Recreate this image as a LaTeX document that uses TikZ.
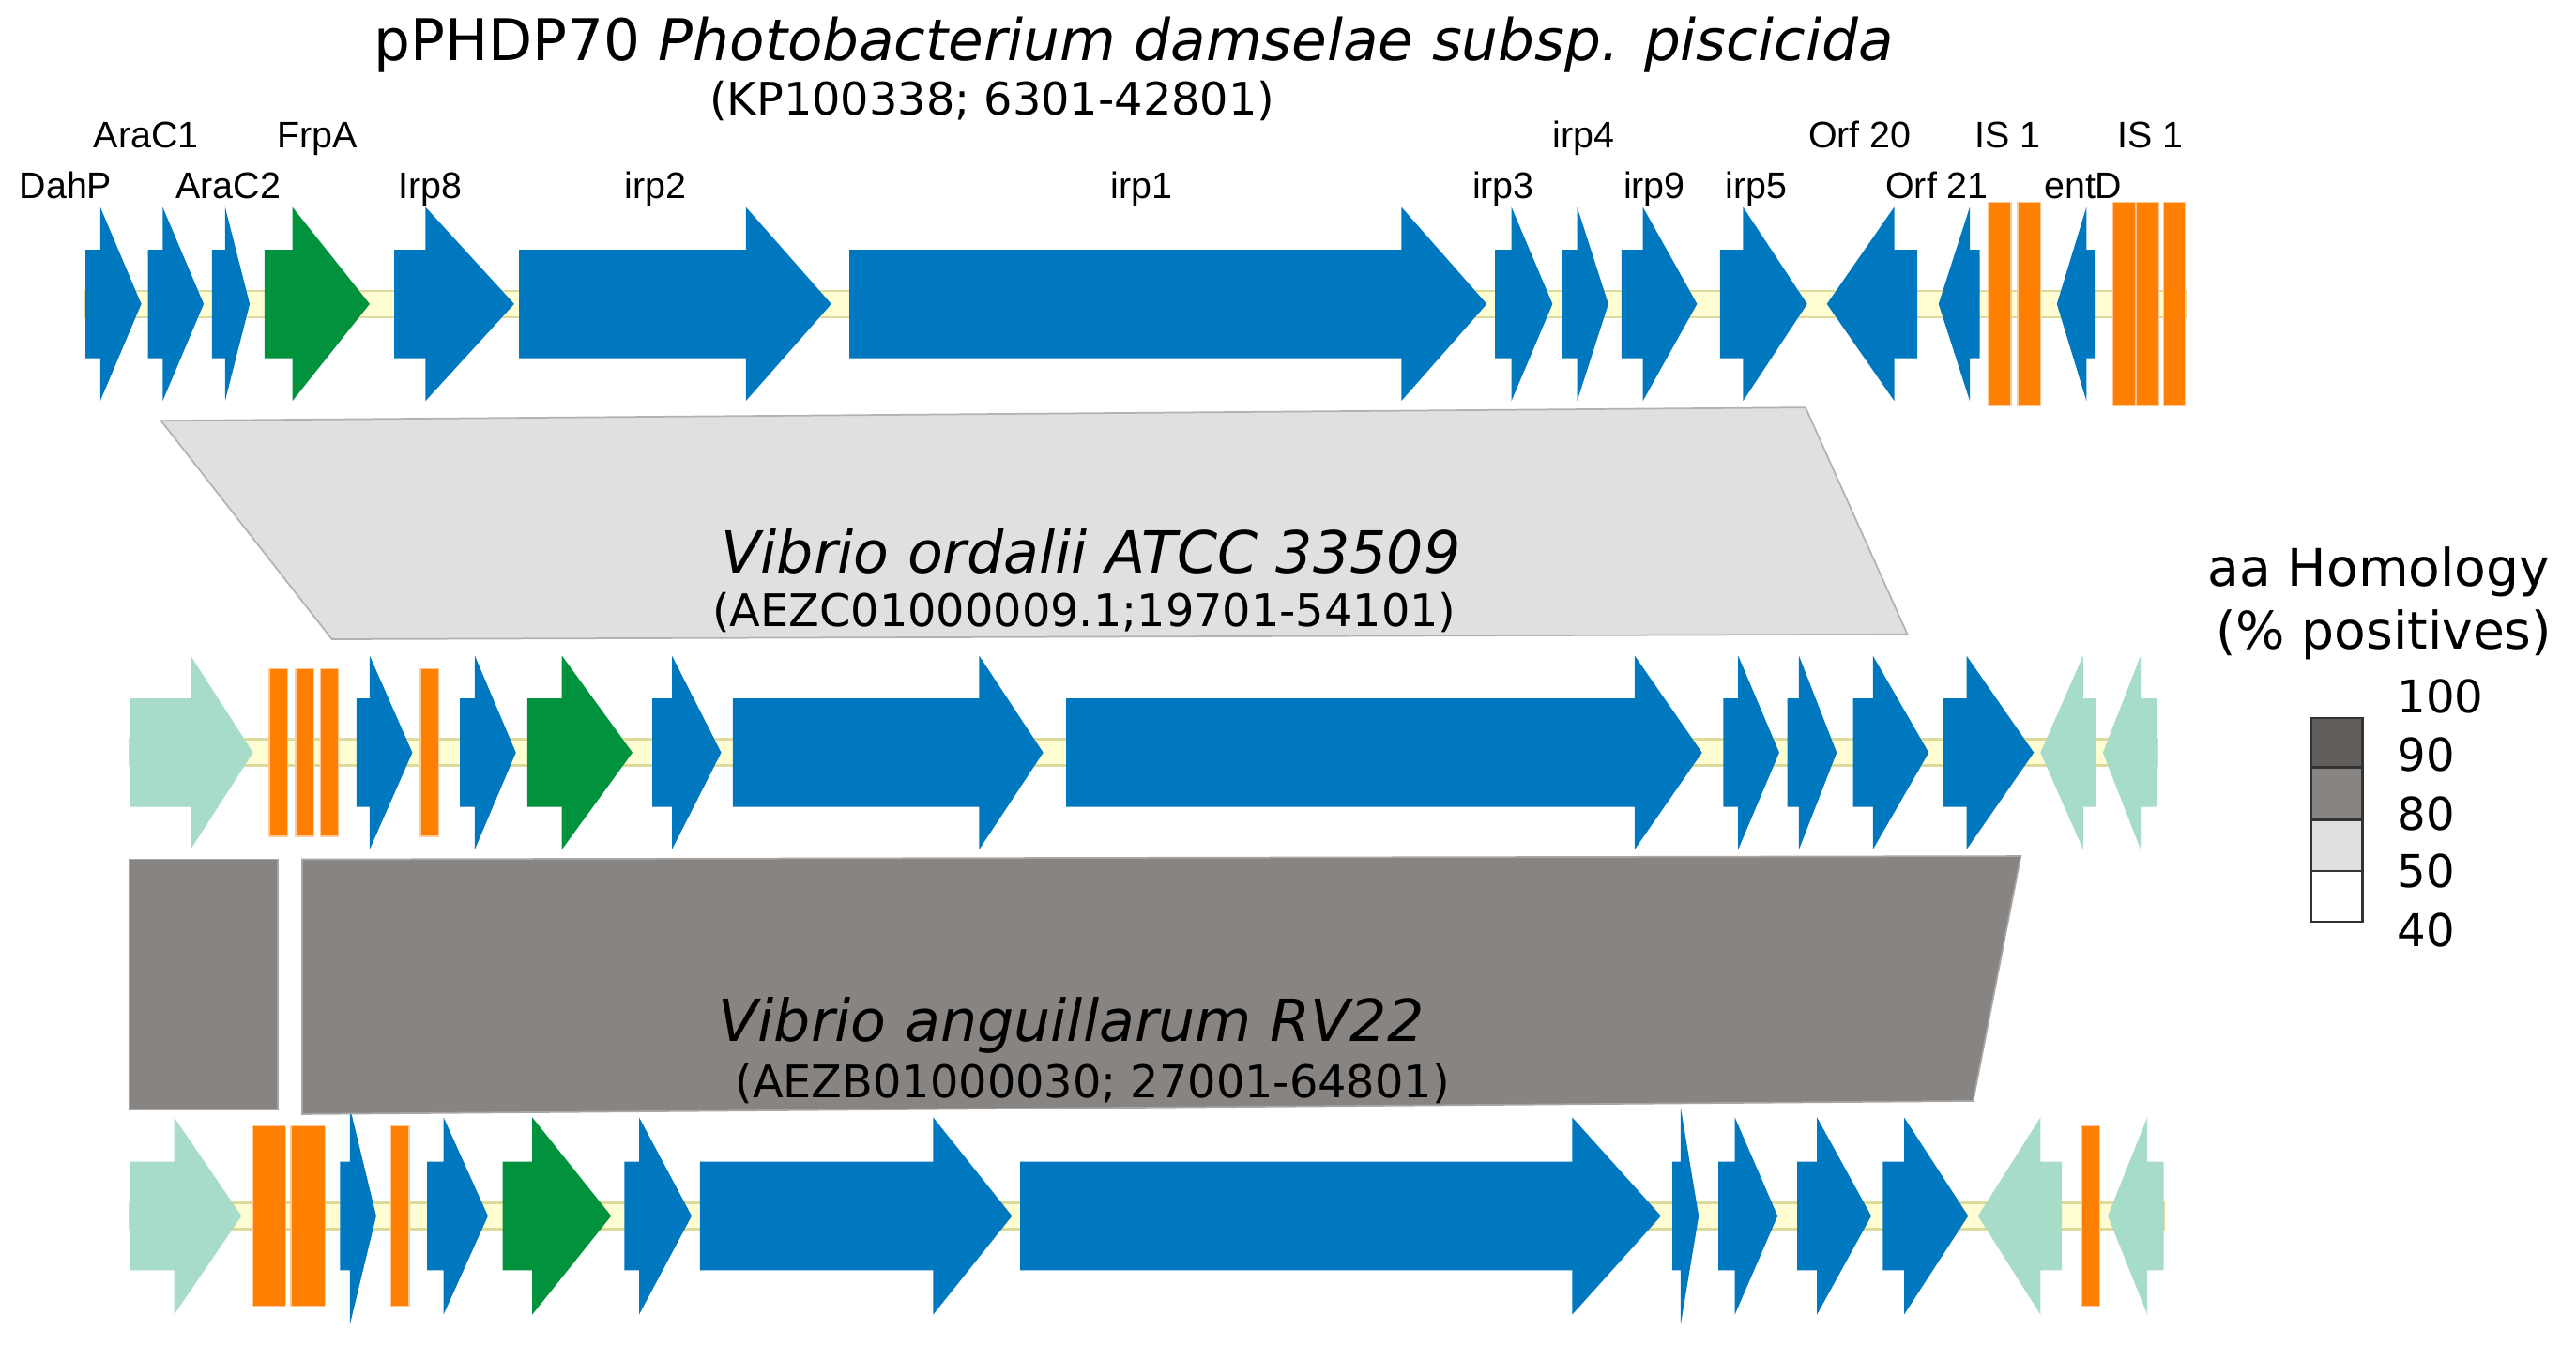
\documentclass[tikz,border=0pt]{standalone}
\usepackage{fontspec}
\setmainfont{DejaVu Sans}
\newfontfamily\genefont{Liberation Sans}
\definecolor{geneblue}{RGB}{0,120,192}
\definecolor{genegreen}{RGB}{0,146,60}
\definecolor{geneorange}{RGB}{255,127,0}
\definecolor{geneteal}{RGB}{166,220,200}
\definecolor{homdark}{RGB}{98,94,92}
\definecolor{hommid}{RGB}{135,132,130}
\definecolor{homlight}{RGB}{224,224,224}
\tikzstyle{geneB}=[geneblue]
\tikzstyle{geneG}=[genegreen]
\tikzstyle{geneT}=[geneteal]
\tikzstyle{geneO}=[fill=geneorange, draw=geneorange!40, line width=0.8pt]
\tikzstyle{track}=[fill=yellow!18, draw=olive!30, line width=1.5pt]
\tikzstyle{genename}=[font=\genefont\fontsize{22.5}{22.5}\selectfont, anchor=base, inner sep=0pt]
\tikzstyle{plasmid}=[font=\fontsize{35}{35}\selectfont, anchor=base, inner sep=0pt]
\tikzstyle{species}=[font=\fontsize{35.3}{35.3}\selectfont\itshape, anchor=base, inner sep=0pt]
\tikzstyle{locus}=[font=\fontsize{27.3}{27.3}\selectfont, anchor=base, inner sep=0pt]
\tikzstyle{homtext}=[font=\fontsize{31.5}{31.5}\selectfont, anchor=base, inner sep=0pt]
\tikzstyle{homval}=[font=\fontsize{27.5}{27.5}\selectfont, anchor=base west, inner sep=0pt]
\tikzstyle{homkey}=[draw=black!80, line width=1.5pt]

\begin{document}
\begin{tikzpicture}[x=1pt, y=-1pt]
			\useasboundingbox (0,0) rectangle (1568,819);

			% Tracks
			\filldraw[track] (52,177) rectangle (1330,193);
			\filldraw[track] (79,450) rectangle (1313,466);
			\filldraw[track] (79,732) rectangle (1317,748);

			% Genes of pPHDP70
			\foreach \s/\h/\t/\c in {52/61/86/geneB, 90/99/124/geneB, 129/137/152/geneB, 161/178/225/geneG,
				240/259/313/geneB, 316/454/506/geneB, 517/853/905/geneB, 910/920/945/geneB, 951/960/979/geneB,
				987/1000/1033/geneB, 1047/1061/1100/geneB, 1167/1153/1112/geneB, 1205/1199/1180/geneB, 1275/1270/1252/geneB}{
				\fill[\c] (\s,152) -- (\h,152) -- (\h,126) -- (\t,185) -- (\h,244) -- (\h,218) -- (\s,218) -- cycle;
			}
			\foreach \a/\b in {1210/1224, 1228/1242, 1286/1300, 1300/1314, 1317/1330}{
				\filldraw[geneO] (\a,123) rectangle (\b,247);
			}

			% Genes of Vibrio ordalii
			\foreach \s/\h/\t/\c in {79/116/154/geneT, 217/225/251/geneB, 280/289/314/geneB, 321/342/385/geneG,
				397/409/439/geneB, 446/596/635/geneB, 649/995/1036/geneB, 1049/1058/1083/geneB, 1088/1095/1118/geneB,
				1128/1140/1174/geneB, 1183/1197/1238/geneB, 1276/1268/1242/geneT, 1313/1303/1280/geneT}{
				\fill[\c] (\s,425) -- (\h,425) -- (\h,399) -- (\t,458) -- (\h,517) -- (\h,491) -- (\s,491) -- cycle;
			}
			\foreach \a/\b in {164/175, 180/191, 195/206, 256/267}{
				\filldraw[geneO] (\a,407) rectangle (\b,509);
			}

			% Genes of Vibrio anguillarum
			\foreach \s/\h/\t/\c in {79/106/147/geneT, 260/270/297/geneB, 306/324/372/geneG, 380/389/421/geneB,
				426/568/616/geneB, 621/957/1011/geneB, 1046/1056/1082/geneB, 1094/1106/1139/geneB,
				1146/1159/1198/geneB, 1255/1242/1204/geneT, 1317/1307/1283/geneT}{
				\fill[\c] (\s,707) -- (\h,707) -- (\h,680) -- (\t,740) -- (\h,800) -- (\h,773) -- (\s,773) -- cycle;
			}
			\foreach \s/\h/\t in {207/213/229, 1018/1023/1034}{
				\fill[geneB] (\s,707) -- (\h,707) -- (\h,674) -- (\t,740) -- (\h,806) -- (\h,773) -- (\s,773) -- cycle;
			}
			\foreach \a/\b in {154/174, 177/198, 238/249, 1267/1278}{
				\filldraw[geneO] (\a,685) rectangle (\b,795);
			}

			% Homology blocks
			\filldraw[fill=homlight, draw=black!30, line width=1pt] (98,256) -- (1099,248) -- (1161,386) -- (202,389) -- cycle;
			\filldraw[fill=hommid, draw=black!35, line width=1pt] (79,523) rectangle (169,675);
			\filldraw[fill=hommid, draw=black!35, line width=1pt] (184,523) -- (1230,521) -- (1201,670) -- (184,678) -- cycle;

			% Names
			\node[plasmid] (title) at (690,37) {pPHDP70 \textit{Photobacterium damselae subsp. piscicida}};
			\node[locus] (titleacc) at (604,70) {(KP100338; 6301-42801)};
			\foreach \x/\y/\t [count=\i] in {40/121/DahP, 89/90/AraC1, 139/121/AraC2, 193/90/FrpA, 262/121/Irp8,
				399/121/irp2, 695/121/irp1, 915/121/irp3, 964/90/irp4, 1007/121/irp9, 1069/121/irp5,
				1132/90/Orf 20, 1179/121/Orf 21, 1222/90/IS 1, 1268/121/entD, 1309/90/IS 1}{
				\node[genename] (g\i) at (\x,\y) {\t};
			}
			\node[species] (ordalii) at (664,349) {Vibrio ordalii ATCC 33509};
			\node[locus] (ordaliiacc) at (660,381) {(AEZC01000009.1;19701-54101)};
			\node[species] (anguil) at (652,634) {Vibrio anguillarum RV22};
			\node[locus] (anguilacc) at (665,668) {(AEZB01000030; 27001-64801)};

			% Key
			\node[homtext] (homhead) at (1448,357) {aa Homology};
			\node[homtext] (homsub) at (1451,395) {(\% positives)};
			\filldraw[homkey, fill=homdark] (1407,437) rectangle (1438,467);
			\filldraw[homkey, fill=hommid] (1407,467) rectangle (1438,499);
			\filldraw[homkey, fill=homlight] (1407,499) rectangle (1438,530);
			\filldraw[homkey, fill=white] (1407,530) rectangle (1438,561);
			\foreach \y/\v in {434/100, 469/90, 505/80, 540/50, 576/40}{
				\node[homval] (h\v) at (1459,\y) {\v};
			}
\end{tikzpicture}
\end{document}
